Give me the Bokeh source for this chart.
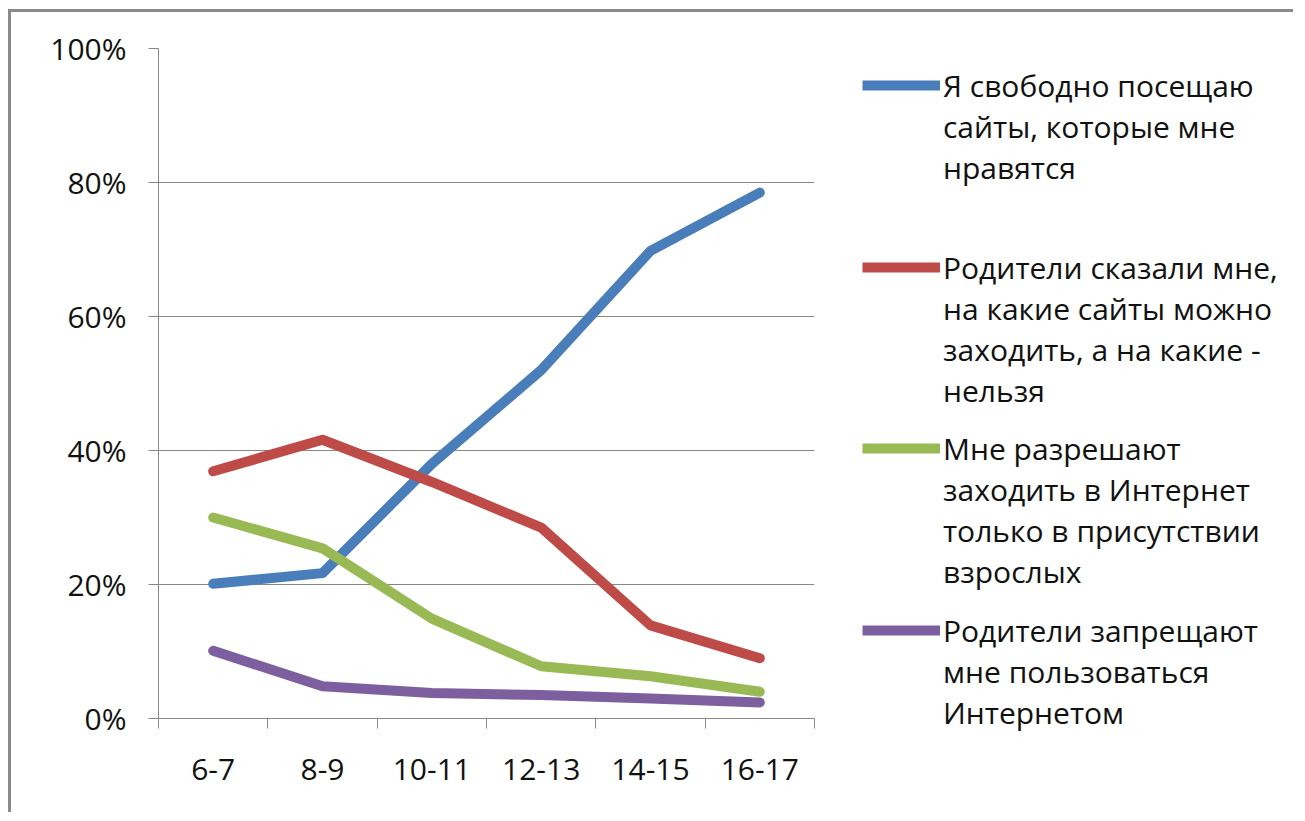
from bokeh.plotting import figure
from bokeh.layouts import row
from bokeh.models import (FixedTicker, PrintfTickFormatter, Legend, LegendItem,
                          Range1d, ColumnDataSource)
from bokeh.embed import file_html
from bokeh.resources import INLINE

categories = ["6-7", "8-9", "10-11", "12-13", "14-15", "16-17"]
free_visit = [20.1, 21.7, 38.0, 52.0, 69.8, 78.5]
parents_told = [36.9, 41.6, 35.3, 28.5, 13.9, 9.0]
with_adults = [30.0, 25.4, 14.9, 7.8, 6.3, 4.0]
forbidden = [10.1, 4.8, 3.8, 3.5, 3.0, 2.4]
y_ticks = [0, 20, 40, 60, 80, 100]

label_free = ["Я свободно посещаю", "сайты, которые мне", "нравятся"]
label_told = ["Родители сказали мне,", "на какие сайты можно", "заходить, а на какие -", "нельзя"]
label_adults = ["Мне разрешают", "заходить в Интернет", "только в присутствии", "взрослых"]
label_forbid = ["Родители запрещают", "мне пользоваться", "Интернетом"]

colors = ["#4A7EBB", "#BE4B48", "#98B954", "#7D5FA0"]
series = [(label_free, free_visit), (label_told, parents_told),
          (label_adults, with_adults), (label_forbid, forbidden)]

FONT = "Open Sans"
TXT = "#111111"
GRID = "#878787"

# layout constants (pixels)
H = 800
P1_W = 811
P2_W = 471
LINE_H = 41
LEG_X = 40
LEG_TOP_Y = [85, 267, 448, 630]   # page y of each legend entry's first line

n = len(categories)
xs = [i + 0.5 for i in range(n)]

p = figure(width=P1_W, height=H, frame_width=656, frame_height=670,
           min_border_left=147, min_border_right=8, min_border_top=36,
           min_border_bottom=94, output_backend="svg", toolbar_location=None,
           x_range=Range1d(0, n), y_range=Range1d(0, 100))
p.outline_line_color = None
p.background_fill_color = "white"
p.border_fill_color = "white"

# x axis: labels at category centres, tick marks at category boundaries
p.xaxis.ticker = FixedTicker(ticks=xs, minor_ticks=list(range(n + 1)))
p.xaxis.major_label_overrides = {x: c for x, c in zip(xs, categories)}
p.xaxis.major_tick_line_color = None
p.xaxis.major_tick_out = 0
p.xaxis.minor_tick_out = 10
p.xaxis.minor_tick_in = 0
p.xaxis.minor_tick_line_color = GRID
p.xaxis.axis_line_color = GRID
p.xaxis.major_label_standoff = 30
p.xaxis.major_label_text_font = FONT
p.xaxis.major_label_text_font_size = "30px"
p.xaxis.major_label_text_color = TXT
p.xgrid.visible = False

p.yaxis.ticker = FixedTicker(ticks=y_ticks)
p.yaxis.formatter = PrintfTickFormatter(format="%d%%")
p.yaxis.major_tick_out = 10
p.yaxis.major_tick_in = 0
p.yaxis.minor_tick_line_color = None
p.yaxis.major_tick_line_color = GRID
p.yaxis.axis_line_color = GRID
p.yaxis.major_label_standoff = 22
p.yaxis.major_label_text_font = FONT
p.yaxis.major_label_text_font_size = "30px"
p.yaxis.major_label_text_color = TXT
p.ygrid.ticker = FixedTicker(ticks=y_ticks)
p.ygrid.grid_line_color = GRID

for (lines, vals), color in zip(series, colors):
    src = ColumnDataSource(dict(x=xs, y=vals))
    p.line("x", "y", source=src, line_width=10, line_color=color,
           line_cap="round", line_join="round")

# legend panel (its frame spans from the plot's top edge to the page bottom)
P2_TOP = 36
p2 = figure(width=P2_W, height=H, frame_width=P2_W, frame_height=H - P2_TOP,
            output_backend="svg", toolbar_location=None,
            x_range=Range1d(0, 1), y_range=Range1d(0, 1),
            x_axis_type=None, y_axis_type=None,
            min_border_left=0, min_border_right=0, min_border_top=P2_TOP,
            min_border_bottom=0)
p2.outline_line_color = None
p2.grid.visible = False
p2.background_fill_color = "white"
p2.border_fill_color = "white"

blank = p2.line(x=[5, 6], y=[5, 6], line_alpha=0)
frame_bottom = 12 + H
for (lines, vals), color, top_y in zip(series, colors, LEG_TOP_Y):
    # key renderer kept outside the visible range; only its legend swatch shows
    key = p2.line(x=[5, 6], y=[5, 6], line_width=10, line_color=color)
    items = [LegendItem(label=lines[0], renderers=[key])]
    items += [LegendItem(label=t, renderers=[blank]) for t in lines[1:]]
    bottom = top_y - LINE_H / 2 + LINE_H * len(lines)
    leg = Legend(items=items, location=(LEG_X, frame_bottom - bottom),
                 glyph_width=78, glyph_height=20, label_height=LINE_H,
                 spacing=0, padding=0, margin=0, label_standoff=3,
                 border_line_color=None, background_fill_alpha=0,
                 label_text_font=FONT, label_text_font_size="30px",
                 label_text_color=TXT)
    p2.add_layout(leg, "center")

layout = row(p, p2, styles={"margin-left": "8px", "margin-top": "9px",
                            "border-left": "3px solid #8a8a8a",
                            "border-top": "3px solid #8a8a8a"})

open("out.html", "w").write(file_html(layout, INLINE))
